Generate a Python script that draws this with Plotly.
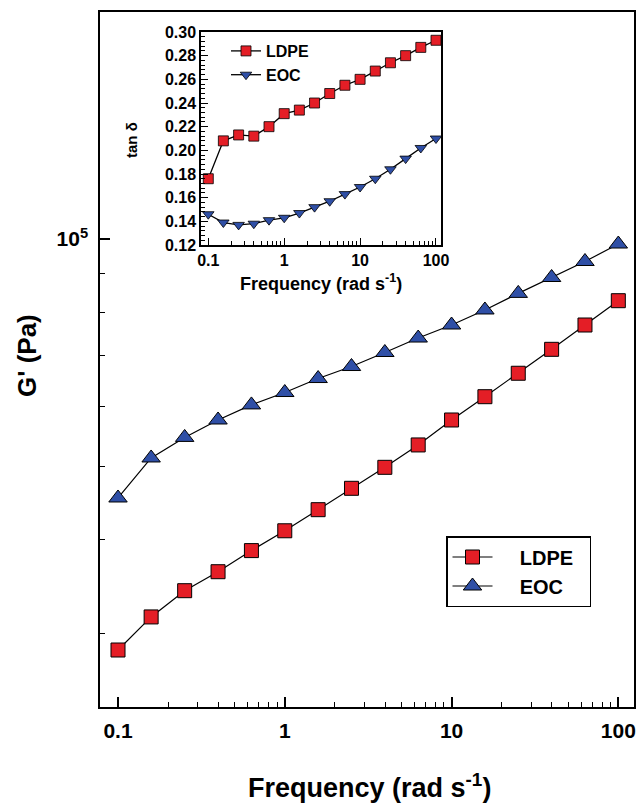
import plotly.graph_objects as go

# Angular frequency sweep (rad/s), 5 points per decade
freq = [0.1, 0.158, 0.251, 0.398, 0.631, 1.0, 1.585, 2.512, 3.981, 6.31,
        10.0, 15.85, 25.12, 39.81, 63.1, 100.0]

# Storage modulus G' (Pa)
g_ldpe = [28550, 31580, 34210, 36250, 38660, 41070, 43800, 46750, 49840, 53360,
          57580, 61820, 66400, 71430, 76930, 82850]
g_eoc = [45390, 51280, 54600, 57580, 60290, 62610, 65340, 67780, 70740, 73930,
         76930, 80540, 84720, 88920, 93370, 98480]

# Loss tangent tan(delta)
tan_ldpe = [0.176, 0.208, 0.213, 0.212, 0.220, 0.231, 0.234, 0.240, 0.248, 0.255,
            0.260, 0.267, 0.274, 0.280, 0.287, 0.293]
tan_eoc = [0.146, 0.139, 0.137, 0.138, 0.141, 0.143, 0.147, 0.152, 0.157, 0.163,
           0.169, 0.176, 0.184, 0.193, 0.202, 0.210]

x_ticks = [0.1, 1, 10, 100]
x_ticktext = ["0.1", "1", "10", "100"]
tan_ticks = [0.12, 0.14, 0.16, 0.18, 0.20, 0.22, 0.24, 0.26, 0.28, 0.30]

RED = "#e41e26"
BLUE = "#2f4fa6"
FONT = "Liberation Sans, Arial, Helvetica, sans-serif"
NB = "\u00a0"

W, H = 641, 804
L, R, T, B = 100, 7, 12, 97
plot_w = W - L - R
plot_h = H - T - B


def px_x(x):
    return (x - L) / plot_w


def px_y(y):
    return (H - B - y) / plot_h


x_minor = [m * 10.0 ** e for e in (-1, 0, 1) for m in range(2, 10)]
y_minor = [m * 1e4 for m in range(2, 10)] + [2e5]

fig = go.Figure()

fig.add_trace(go.Scatter(
    x=freq, y=g_ldpe, name=NB * 4 + "LDPE" + NB * 2, mode="lines+markers",
    line=dict(color="black", width=1.2),
    marker=dict(symbol="square", size=14, color=RED, line=dict(color="black", width=1)),
    legend="legend", legendgroup="a",
))
fig.add_trace(go.Scatter(
    x=freq, y=g_eoc, name=NB * 4 + "EOC", mode="lines+markers",
    line=dict(color="black", width=1.2),
    marker=dict(symbol="triangle-up", size=16, color=BLUE, line=dict(color="black", width=1)),
    legend="legend", legendgroup="b",
))

fig.add_trace(go.Scatter(
    x=freq, y=tan_ldpe, name="LDPE", mode="lines+markers",
    xaxis="x2", yaxis="y2",
    line=dict(color="black", width=1.3),
    marker=dict(symbol="square", size=10, color=RED, line=dict(color="black", width=0.8)),
    legend="legend2",
))
fig.add_trace(go.Scatter(
    x=freq, y=tan_eoc, name="EOC", mode="lines+markers",
    xaxis="x2", yaxis="y2",
    line=dict(color="black", width=1.3),
    marker=dict(symbol="triangle-down", size=10, color=BLUE, line=dict(color="black", width=0.8)),
    legend="legend2",
))

axis_common = dict(
    showgrid=False, zeroline=False, showline=True, linecolor="black",
    linewidth=1.5, mirror=True, ticks="inside", tickcolor="black",
    automargin=False,
)

inset_x0, inset_x1 = px_x(201), px_x(441)
inset_y0, inset_y1 = px_y(245), px_y(32)

fig.update_layout(
    width=W, height=H,
    margin=dict(l=L, r=R, t=T, b=B, autoexpand=False),
    paper_bgcolor="white", plot_bgcolor="white",
    font=dict(family=FONT, color="black"),
    xaxis=dict(
        type="log", range=[-1.108, 2.094], domain=[0, 1],
        tickmode="array", tickvals=x_ticks, ticktext=x_ticktext,
        ticklen=10, tickwidth=1.5, ticklabelstandoff=4,
        tickfont=dict(size=21, weight="bold"),
        minor=dict(tickmode="array", tickvals=x_minor, ticks="inside",
                   ticklen=5, tickwidth=1.2, tickcolor="black", showgrid=False),
        **axis_common,
    ),
    yaxis=dict(
        type="log", range=[4.3801, 5.3007], domain=[0, 1],
        tickmode="array", tickvals=[1e5], ticktext=["10<sup>5</sup>"],
        ticklen=10, tickwidth=1.5, ticklabelstandoff=6,
        tickfont=dict(size=21, weight="bold"),
        minor=dict(tickmode="array", tickvals=y_minor, ticks="inside",
                   ticklen=5, tickwidth=1.2, tickcolor="black", showgrid=False),
        **axis_common,
    ),
    xaxis2=dict(
        type="log", range=[-1.096, 2.066], domain=[inset_x0, inset_x1],
        anchor="y2",
        tickmode="array", tickvals=x_ticks, ticktext=x_ticktext,
        ticklen=7, tickwidth=1.3,
        tickfont=dict(size=16, weight="bold"),
        minor=dict(tickmode="array", tickvals=x_minor, ticks="inside",
                   ticklen=4, tickwidth=1, tickcolor="black", showgrid=False),
        **axis_common,
    ),
    yaxis2=dict(
        range=[0.12, 0.30], domain=[inset_y0, inset_y1], anchor="x2",
        tickmode="array", tickvals=tan_ticks,
        ticktext=[f"{v:.2f}" for v in tan_ticks],
        ticklen=7, tickwidth=1.3,
        tickfont=dict(size=16, weight="bold"),
        minor=dict(tickmode="linear", tick0=0.12, dtick=0.004, ticks="inside",
                   ticklen=4, tickwidth=1, tickcolor="black", showgrid=False),
        **axis_common,
    ),
    legend=dict(
        x=px_x(446), y=px_y(536), xanchor="left", yanchor="top",
        bgcolor="white", bordercolor="black", borderwidth=1.5,
        font=dict(size=20, weight="bold"),
        itemwidth=40, tracegroupgap=0,
    ),
    legend2=dict(
        x=px_x(226), y=px_y(34), xanchor="left", yanchor="top",
        bgcolor="rgba(0,0,0,0)", borderwidth=0,
        font=dict(size=16, weight="bold"),
        itemwidth=30, tracegroupgap=0,
    ),
    showlegend=True,
)

# Axis titles
fig.add_annotation(
    text="Frequency (rad s<sup>-1</sup>)", xref="paper", yref="paper",
    x=px_x(369), y=px_y(786), showarrow=False,
    font=dict(size=27, weight="bold"), xanchor="center", yanchor="middle",
)
fig.add_annotation(
    text="G' (Pa)", xref="paper", yref="paper",
    x=px_x(27), y=px_y(356), showarrow=False, textangle=-90,
    font=dict(size=26, weight="bold"), xanchor="center", yanchor="middle",
)
fig.add_annotation(
    text="Frequency (rad s<sup>-1</sup>)", xref="paper", yref="paper",
    x=px_x(321), y=px_y(282), showarrow=False,
    font=dict(size=18, weight="bold"), xanchor="center", yanchor="middle",
)
fig.add_annotation(
    text="tan δ", xref="paper", yref="paper",
    x=px_x(131), y=px_y(140), showarrow=False, textangle=-90,
    font=dict(size=15, weight="bold"), xanchor="center", yanchor="middle",
)

fig.write_html("out.html")
